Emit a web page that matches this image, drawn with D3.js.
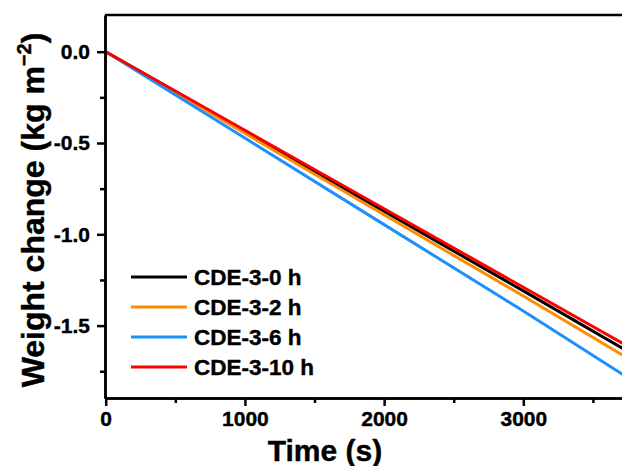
<!DOCTYPE html>
<html>
<head>
<meta charset="utf-8">
<script src="https://cdn.jsdelivr.net/npm/d3@7"></script>
<style>
  body { margin: 0; background: #fff; }
  svg { display: block; font-family: "Liberation Sans", Arial, sans-serif; font-weight: bold; }
  text { stroke: #000; stroke-width: 0.4px; }
</style>
</head>
<body>
<svg id="chart" width="622" height="466"></svg>
<script>
// Data
const times = [0, 1000, 2000, 3000, 3720];
const seriesNames = ["CDE-3-0 h", "CDE-3-2 h", "CDE-3-6 h", "CDE-3-10 h"];
const seriesColors = ["#000000", "#ff8c00", "#1e8fff", "#ff0000"];
const w0h = [0, -0.437, -0.873, -1.31, -1.628];
const w2h = [0, -0.447, -0.893, -1.338, -1.665];
const w6h = [0, -0.473, -0.947, -1.42, -1.77];
const w10h = [0, -0.43, -0.86, -1.29, -1.6];
const xMajor = [0, 1000, 2000, 3000];
const xMinor = [500, 1500, 2500, 3500];
const yMajor = [0, -0.5, -1.0, -1.5];
const yMinor = [-0.25, -0.75, -1.25, -1.75];

const seriesValues = [w0h, w2h, w6h, w10h];

const svg = d3.select("#chart");
const plotLeft = 105, plotTop = 15, plotBottom = 398;

const x = d3.scaleLinear().domain([-5, 3800]).range([plotLeft, 634.7]);
const y = d3.scaleLinear().domain([0.201, -1.8965]).range([plotTop, plotBottom]);

// clip so lines stay inside the frame
svg.append("clipPath").attr("id", "plotclip")
    .append("rect")
    .attr("x", plotLeft).attr("y", plotTop)
    .attr("width", x.range()[1] - plotLeft).attr("height", plotBottom - plotTop);

// Lines
const line = d3.line()
    .x(d => x(d[0]))
    .y(d => y(d[1]));

seriesValues.forEach((vals, i) => {
    svg.append("path")
        .datum(times.map((t, j) => [t, vals[j]]))
        .attr("clip-path", "url(#plotclip)")
        .attr("fill", "none")
        .attr("stroke", seriesColors[i])
        .attr("stroke-width", 3)
        .attr("d", line);
});

// Axes
const xAxis = svg.append("g")
    .attr("transform", `translate(0,${plotBottom})`)
    .call(d3.axisBottom(x).tickValues(xMajor).tickSize(8).tickSizeOuter(0).tickPadding(5).tickFormat(d3.format("d")));
xAxis.append("g")
    .call(d3.axisBottom(x).tickValues(xMinor).tickSize(5).tickSizeOuter(0).tickFormat(""));

const yAxis = svg.append("g")
    .attr("transform", `translate(${plotLeft},0)`)
    .call(d3.axisLeft(y).tickValues(yMajor).tickSize(8).tickSizeOuter(0).tickPadding(7).tickFormat(d => d3.format(".1f")(d).replace("\u2212", "-")));
yAxis.append("g")
    .call(d3.axisLeft(y).tickValues(yMinor).tickSize(5).tickSizeOuter(0).tickFormat(""));

svg.selectAll(".domain").attr("stroke", "#000").attr("stroke-width", 2.5);
svg.selectAll(".tick line").attr("stroke", "#000").attr("stroke-width", 2.5);
svg.selectAll(".tick text").attr("font-size", 21).attr("font-weight", "bold").attr("fill", "#000")
    .attr("font-family", "Liberation Sans, Arial, sans-serif");

// top frame line
svg.append("line")
    .attr("x1", plotLeft).attr("x2", x.range()[1])
    .attr("y1", plotTop).attr("y2", plotTop)
    .attr("stroke", "#000").attr("stroke-width", 2.5);

// Axis titles
svg.append("text")
    .attr("x", 325).attr("y", 461)
    .attr("text-anchor", "middle")
    .attr("font-size", 30)
    .text("Time (s)");

const yTitle = svg.append("text")
    .attr("transform", "translate(44,210) rotate(-90)")
    .attr("text-anchor", "middle")
    .attr("font-size", 32);
yTitle.append("tspan").text("Weight change (kg m");
yTitle.append("tspan").attr("dy", -13).attr("font-size", 20).text("\u22122");
yTitle.append("tspan").attr("dy", 13).text(")");

// Legend
const legend = svg.append("g").attr("transform", "translate(131,277)");
seriesNames.forEach((name, i) => {
    const g = legend.append("g").attr("transform", `translate(0,${i * 30})`);
    g.append("line")
        .attr("x1", 0).attr("x2", 56)
        .attr("y1", 0).attr("y2", 0)
        .attr("stroke", seriesColors[i]).attr("stroke-width", 3);
    g.append("text")
        .attr("x", 63).attr("y", 8)
        .attr("font-size", 22.5)
        .text(name);
});
</script>
</body>
</html>
